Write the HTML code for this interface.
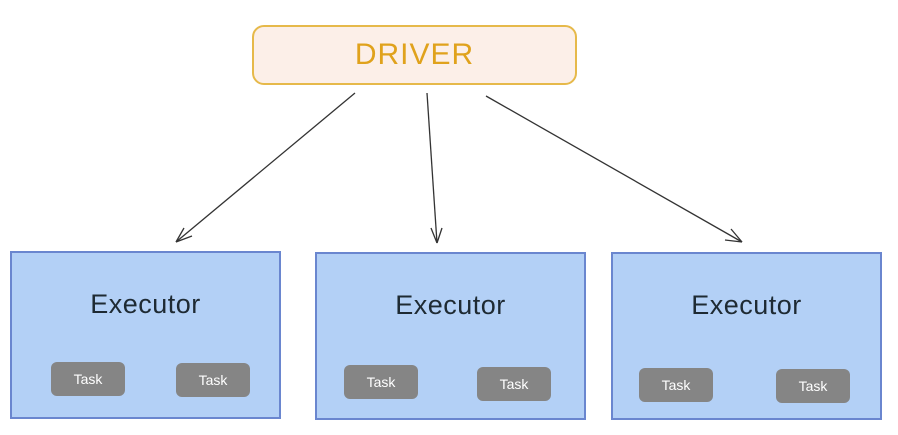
<!DOCTYPE html>
<html><head><style>
body{margin:0;width:898px;height:435px;background:#fff;position:relative;overflow:hidden;font-family:"Liberation Sans",sans-serif}
.b{position:absolute;background:#b3d0f6;border:2px solid #6a86cf;box-sizing:border-box}
.e{position:absolute;left:0;right:0;text-align:center;font-size:27px;color:#1e2a33;top:36px;letter-spacing:0.5px}
.t{position:absolute;background:#858585;border-radius:6px;color:#fff;font-size:14px;text-align:center;line-height:34px;width:74px;height:34px}
</style></head><body>
<div style="position:absolute;left:252px;top:25px;width:325px;height:60px;box-sizing:border-box;border:2px solid #e6b94a;border-radius:12px;background:#fcefe8;text-align:center;line-height:56px;font-size:30px;color:#e0a21c;letter-spacing:1px">DRIVER</div>
<svg width="898" height="435" style="position:absolute;left:0;top:0">
<g stroke="#333" stroke-width="1.3" fill="none">
<line x1="355" y1="93" x2="176" y2="242"/><path d="M176 242 L184 228 M176 242 L192 236"/>
<line x1="427" y1="93" x2="437" y2="243"/><path d="M437 243 L431 228 M437 243 L442 228"/>
<line x1="486" y1="96" x2="742" y2="242"/><path d="M742 242 L725 240 M742 242 L731 229"/>
</g></svg>
<div class="b" style="left:10px;top:251px;width:271px;height:168px"><div class="e">Executor</div>
<div class="t" style="left:39px;top:109px">Task</div><div class="t" style="left:164px;top:110px">Task</div></div>
<div class="b" style="left:315px;top:252px;width:271px;height:168px"><div class="e">Executor</div>
<div class="t" style="left:27px;top:111px">Task</div><div class="t" style="left:160px;top:113px">Task</div></div>
<div class="b" style="left:611px;top:252px;width:271px;height:168px"><div class="e">Executor</div>
<div class="t" style="left:26px;top:114px">Task</div><div class="t" style="left:163px;top:115px">Task</div></div>
</body></html>
